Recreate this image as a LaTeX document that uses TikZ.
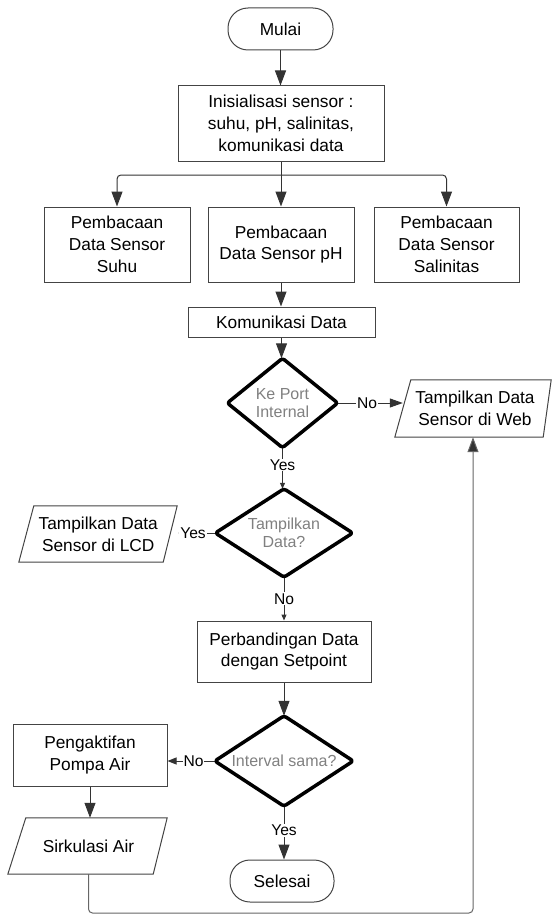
\documentclass[tikz,border=0pt]{standalone}
\usepackage{fontspec}
\setmainfont{Liberation Sans}
\usetikzlibrary{arrows.meta}
\definecolor{boxc}{HTML}{444444}
\definecolor{linec}{HTML}{333333}
\definecolor{dtext}{HTML}{808080}
\definecolor{retc}{HTML}{666666}
\newcommand{\boxfont}{\fontsize{17.3}{21.7}\selectfont}
\newcommand{\dfont}{\fontsize{16}{18.5}\selectfont}
\newcommand{\lblfont}{\fontsize{15.6}{18}\selectfont}
\begin{document}
\begin{tikzpicture}[x=1pt,y=1pt,
 procbox/.style={draw=boxc, line width=1pt, inner sep=0pt, align=center, font=\boxfont, text=black},
 termbox/.style={procbox, rounded corners=20pt},
 iobox/.style={inner sep=0pt, align=center, font=\boxfont, text=black},
 decbox/.style={inner sep=0pt, align=center, font=\dfont, text=dtext},
 decline/.style={draw=black, line width=3.5pt, line join=round, rounded corners=2.5pt},
 ioline/.style={draw=boxc, line width=1pt, line join=miter},
 bigarrow/.style={draw=linec, line width=1pt, -{Triangle[length=15pt,width=11pt]}},
 midarrow/.style={draw=linec, line width=1pt, -{Triangle[length=13pt,width=9pt]}},
 lowarrow/.style={draw=linec, line width=1pt, -{Triangle[length=9pt,width=7pt]}},
 smallarrow/.style={draw=linec, line width=1pt, -{Triangle[length=6pt,width=5pt]}},
 retarrow/.style={draw=retc, line width=1pt, rounded corners=4pt, -{Triangle[length=15pt,width=11pt,fill=linec]}},
 lbl/.style={fill=white, inner sep=1pt, font=\lblfont, text=black},
]
\useasboundingbox (0,0) rectangle (552,-915);

% nodes
\node[termbox, minimum width=105pt, minimum height=42pt] (mulai) at (280.5,-29) {Mulai};
\node[procbox, minimum width=206pt, minimum height=75pt] (init) at (281,-123.5) {Inisialisasi sensor :\\suhu, pH, salinitas,\\komunikasi data};
\node[procbox, minimum width=146pt, minimum height=75pt] (suhu) at (117,-244.5) {Pembacaan\\Data Sensor\\Suhu};
\node[procbox, minimum width=146pt, minimum height=75pt] (ph) at (281,-244.5) {Pembacaan\\Data Sensor pH};
\node[procbox, minimum width=145pt, minimum height=75pt] (sal) at (446.5,-244.5) {Pembacaan\\Data Sensor\\Salinitas};
\node[procbox, minimum width=187pt, minimum height=30pt] (kom) at (281.5,-322) {Komunikasi Data};
\node[decbox, minimum width=110pt, minimum height=89pt] (kp) at (282.5,-403) {Ke Port\\Internal};
\node[iobox, minimum width=144pt, minimum height=57pt] (web) at (475,-408.5) {Tampilkan Data\\Sensor di Web};
\node[decbox, minimum width=137pt, minimum height=88pt] (tp) at (284,-533) {Tampilkan\\Data?};
\node[iobox, minimum width=143.5pt, minimum height=56pt] (lcd) at (98.25,-534) {Tampilkan Data\\Sensor di LCD};
\node[procbox, minimum width=174pt, minimum height=61pt] (banding) at (284,-651.5) {Perbandingan Data\\dengan Setpoint};
\node[decbox, minimum width=138pt, minimum height=90pt] (iv) at (284,-761) {Interval sama?};
\node[procbox, minimum width=154pt, minimum height=62pt] (pompa) at (90,-755) {Pengaktifan\\Pompa Air};
\node[iobox, minimum width=143pt, minimum height=56pt] (sirk) at (88.5,-846) {Sirkulasi Air};
\node[termbox, minimum width=104pt, minimum height=42pt] (selesai) at (282,-881) {Selesai};

% parallelograms
\draw[ioline] ([xshift=8pt]web.north west) -- ([xshift=4pt]web.north east) -- ([xshift=-4pt]web.south east) -- ([xshift=-8pt]web.south west) -- cycle;
\draw[ioline] ([xshift=7.5pt]lcd.north west) -- ([xshift=7pt]lcd.north east) -- ([xshift=-7pt]lcd.south east) -- ([xshift=-7.5pt]lcd.south west) -- cycle;
\draw[ioline] ([xshift=9pt]sirk.north west) -- ([xshift=7pt]sirk.north east) -- ([xshift=-7pt]sirk.south east) -- ([xshift=-9pt]sirk.south west) -- cycle;

% connectors
\coordinate (br) at (281,-175);
\coordinate (rb) at (473,-913);
\draw[bigarrow] (mulai.south) -- (mulai.south |- init.north);
\draw[bigarrow] (init.south) -- (ph.north);
\draw[bigarrow, rounded corners=4pt] (br) -| (suhu.north);
\draw[bigarrow, rounded corners=4pt] (br) -| (sal.north);
\draw[bigarrow] (ph.south) -- (ph.south |- kom.north);
\draw[bigarrow] (kom.south) -- (kom.south |- kp.north);
\draw[midarrow] (kp.east) -- node[lbl, pos=0.45] {No} (kp.east -| web.west);
\draw[smallarrow] (kp.south) -- node[lbl, pos=0.42] {Yes} (kp.south |- tp.north);
\draw[smallarrow] (tp.west) -- node[lbl, pos=0.6] {Yes} ([xshift=8pt]tp.west -| lcd.east);
\draw[smallarrow] (tp.south) -- node[lbl] {No} (banding.north);
\draw[bigarrow] (banding.south) -- (iv.north);
\draw[lowarrow] (iv.west) -- node[lbl, pos=0.45] {No} (iv.west -| pompa.east);
\draw[bigarrow] (iv.south) -- node[lbl, pos=0.45] {Yes} (iv.south |- selesai.north);
\draw[bigarrow] (pompa.south) -- (pompa.south |- sirk.north);
\draw[retarrow] (sirk.south) |- (rb) -- (rb |- web.south);

% decisions
\draw[decline] (kp.north) -- (kp.east) -- (kp.south) -- (kp.west) -- cycle;
\draw[decline] (tp.north) -- (tp.east) -- (tp.south) -- (tp.west) -- cycle;
\draw[decline] (iv.north) -- (iv.east) -- (iv.south) -- (iv.west) -- cycle;
\end{tikzpicture}
\end{document}
